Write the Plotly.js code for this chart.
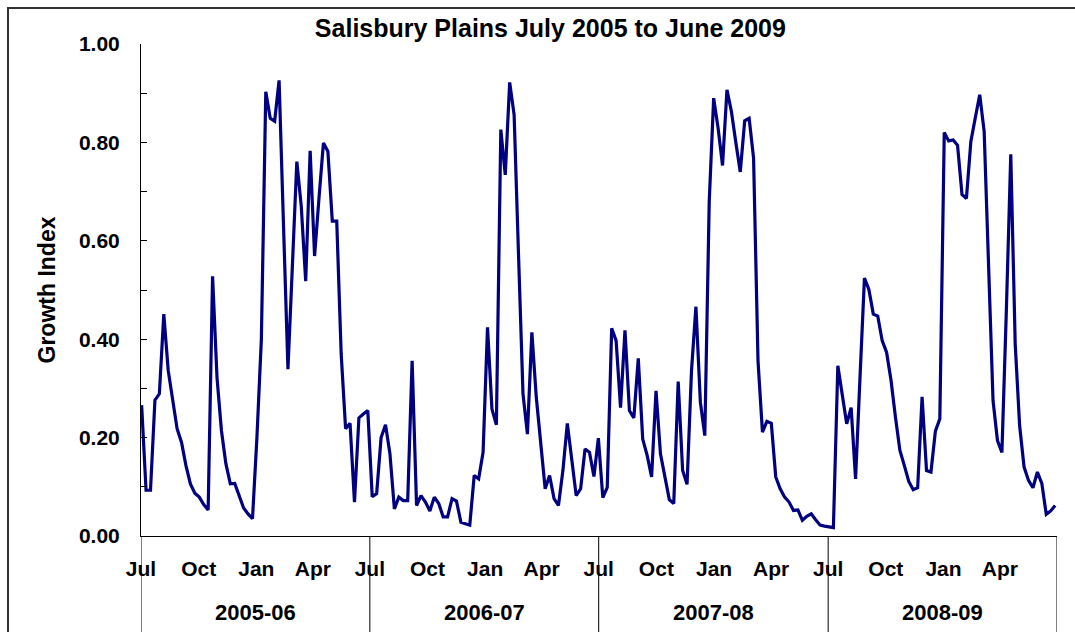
<!DOCTYPE html>
<html>
<head>
<meta charset="utf-8">
<script src="https://cdn.plot.ly/plotly-3.0.1.min.js"></script>
<style>
html,body{margin:0;padding:0;background:#fff;}
#chart{width:1075px;height:632px;}
</style>
</head>
<body>
<div id="chart"></div>
<script>
// ---- data (weekly growth index) ----
const firstDate = '2005-07-02';
const lastDate = '2009-06-28';

const growth2005_06 = [0.266,0.093,0.093,0.276,0.289,0.451,0.336,0.278,0.218,0.190,
  0.143,0.106,0.087,0.079,0.064,0.053,0.528,0.322,0.214,0.147,
  0.106,0.107,0.082,0.057,0.045,0.035,0.200,0.400,0.903,0.849,
  0.843,0.926,0.630,0.339,0.550,0.761,0.670,0.518,0.783,0.569,
  0.687,0.799,0.782,0.640,0.640,0.370,0.218,0.229,0.069,0.240,
  0.248,0.255];
const growth2006_07 = [0.080,0.086,0.200,0.226,0.167,0.055,0.079,0.072,0.072,0.356,
  0.062,0.082,0.069,0.051,0.079,0.066,0.039,0.039,0.076,0.071,
  0.028,0.025,0.022,0.123,0.116,0.170,0.424,0.258,0.226,0.826,
  0.734,0.922,0.856,0.570,0.289,0.207,0.414,0.282,0.187,0.096,
  0.123,0.076,0.062,0.133,0.229,0.153,0.082,0.096,0.177,0.170,
  0.121,0.199,0.078];
const growth2007_08 = [0.099,0.422,0.397,0.261,0.418,0.255,0.240,0.361,0.197,0.164,
  0.120,0.295,0.167,0.120,0.074,0.066,0.314,0.133,0.105,0.336,
  0.466,0.272,0.204,0.680,0.890,0.829,0.753,0.907,0.863,0.800,
  0.740,0.844,0.849,0.768,0.356,0.211,0.233,0.229,0.120,0.096,
  0.079,0.069,0.052,0.053,0.032,0.040,0.045,0.033,0.022,0.020,
  0.018,0.017];
const growth2008_09 = [0.346,0.289,0.228,0.261,0.116,0.322,0.524,0.501,0.451,0.447,
  0.397,0.373,0.316,0.241,0.174,0.143,0.111,0.094,0.098,0.283,
  0.133,0.130,0.213,0.238,0.820,0.803,0.805,0.794,0.694,0.686,
  0.802,0.850,0.897,0.822,0.560,0.275,0.194,0.170,0.457,0.776,
  0.390,0.224,0.140,0.113,0.098,0.130,0.107,0.044,0.051,0.062];

const monthTickDates = [
  '2005-07-01','2005-10-01','2006-01-01','2006-04-01',
  '2006-07-01','2006-10-01','2007-01-01','2007-04-01',
  '2007-07-01','2007-10-01','2008-01-01','2008-04-01',
  '2008-07-01','2008-10-01','2009-01-01','2009-04-01'];
const monthTickLabels = ['Jul','Oct','Jan','Apr','Jul','Oct','Jan','Apr',
  'Jul','Oct','Jan','Apr','Jul','Oct','Jan','Apr'];
const seasonLabels = ['2005-06','2006-07','2007-08','2008-09'];
const seasonBounds = ['2005-07-01','2006-07-01','2007-07-01','2008-07-01','2009-07-01'];

// ---- build ----
const values = [].concat(growth2005_06, growth2006_07, growth2007_08, growth2008_09);
const t0 = Date.parse(firstDate + 'T00:00:00Z');
const t1 = Date.parse(lastDate + 'T00:00:00Z');
const n = values.length;
const dates = values.map((_, i) => new Date(t0 + (t1 - t0) * i / (n - 1)).toISOString().slice(0, 19).replace('T', ' '));

const FONT = 'Liberation Sans, Arial, Helvetica, sans-serif';

const trace = {
  type: 'scatter', mode: 'lines',
  x: dates, y: values,
  line: {color: '#000080', width: 3.2},
  hoverinfo: 'skip'
};

const plotH = 492, plotBottomPx = 536, figH = 632;
const shapes = [];
seasonBounds.forEach(d => {
  shapes.push({type: 'line', xref: 'x', yref: 'paper', x0: d, x1: d, y0: 0, y1: -0.25,
    line: {color: '#000', width: 1}, layer: 'above'});
});
// outer chart frame
shapes.push({type: 'rect', xref: 'paper', yref: 'paper',
  x0: -(141 - 8) / 916, x1: 1.1, y0: -0.4, y1: (plotBottomPx - 8) / plotH,
  line: {color: '#333', width: 2}, fillcolor: 'rgba(0,0,0,0)', layer: 'below'});

const annotations = seasonLabels.map((lab, i) => {
  const a = Date.parse(seasonBounds[i] + 'T00:00:00Z');
  const b = Date.parse(seasonBounds[i + 1] + 'T00:00:00Z');
  const mid = new Date((a + b) / 2).toISOString().slice(0, 19).replace('T', ' ');
  return {x: mid, xref: 'x', y: -(612 - plotBottomPx) / plotH, yref: 'paper',
    text: lab, showarrow: false, xanchor: 'center', yanchor: 'middle',
    font: {family: FONT, size: 22, weight: 'bold', color: '#000'}};
});

const layout = {
  width: 1075, height: 632,
  margin: {l: 141, r: 18, t: 44, b: 96},
  paper_bgcolor: '#fff', plot_bgcolor: '#fff',
  showlegend: false,
  font: {family: FONT, color: '#000'},
  title: {
    text: 'Salisbury Plains July 2005 to June 2009',
    font: {family: FONT, size: 25, weight: 'bold', color: '#000'},
    xref: 'container', x: 0.512, xanchor: 'center',
    yref: 'container', y: 1 - 28 / figH, yanchor: 'middle'
  },
  xaxis: {
    type: 'date', range: ['2005-07-01', '2009-07-01'],
    showgrid: false, zeroline: false,
    showline: true, linecolor: '#000', linewidth: 1,
    ticks: '', tickmode: 'array', tickvals: monthTickDates, ticktext: monthTickLabels,
    tickfont: {family: FONT, size: 21, weight: 'bold', color: '#000'},
    ticklabelstandoff: 14, fixedrange: true
  },
  yaxis: {
    range: [0, 1], showgrid: false, zeroline: false,
    showline: true, linecolor: '#000', linewidth: 1,
    ticks: 'inside', ticklen: 6, tickwidth: 1, tickcolor: '#000',
    tick0: 0, dtick: 0.2, tickformat: '.2f',
    minor: {dtick: 0.1, ticks: 'inside', ticklen: 6, tickwidth: 1, tickcolor: '#000', showgrid: false},
    tickfont: {family: FONT, size: 21, weight: 'bold', color: '#000'},
    ticklabelstandoff: 16,
    title: {text: 'Growth Index', font: {family: FONT, size: 23, weight: 'bold', color: '#000'}, standoff: 16},
    fixedrange: true
  },
  shapes: shapes,
  annotations: annotations
};

Plotly.newPlot('chart', [trace], layout, {displayModeBar: false, staticPlot: true});
</script>
</body>
</html>
